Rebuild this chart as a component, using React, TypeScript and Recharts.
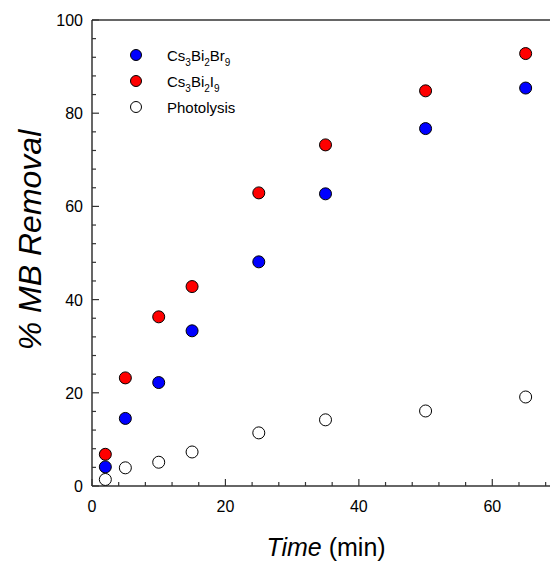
import { ScatterChart, Scatter, XAxis, YAxis, ReferenceLine } from 'recharts'

// time points (min)
const times = [2, 5, 10, 15, 25, 35, 50, 65]
// % MB removal per series
const brValues = [4.1, 14.5, 22.2, 33.3, 48.1, 62.7, 76.7, 85.4]
const iValues = [6.8, 23.2, 36.3, 42.8, 62.9, 73.2, 84.8, 92.8]
const photoValues = [1.4, 3.9, 5.1, 7.3, 11.4, 14.2, 16.1, 19.1]

const xTicks = [0, 4, 8, 12, 16, 20, 24, 28, 32, 36, 40, 44, 48, 52, 56, 60, 64, 68]
const xMajor = [0, 20, 40, 60]
const yTicks = [0, 4, 8, 12, 16, 20, 24, 28, 32, 36, 40, 44, 48, 52, 56, 60, 64, 68, 72, 76, 80, 84, 88, 92, 96, 100]
const yMajor = [0, 20, 40, 60, 80, 100]

const toPoints = (vals: number[]) => times.map((t, i) => ({ x: t, y: vals[i] }))
const brData = toPoints(brValues)
const iData = toPoints(iValues)
const photoData = toPoints(photoValues)

const FONT = '"Liberation Sans", Arial, sans-serif'

const dot = (fill: string) => (props: any) => (
  <circle cx={props.cx} cy={props.cy} r={6} fill={fill} stroke="#000" strokeWidth={1} />
)

const XTick = (props: any) => {
  const { x, y, payload } = props
  const major = xMajor.includes(payload.value)
  return (
    <g>
      <line x1={x} x2={x} y1={y} y2={y - (major ? 7 : 4)} stroke="#333" strokeWidth={1.2} />
      {major && (
        <text x={x} y={y + 26} textAnchor="middle" fontSize={16} fill="#000" fontFamily={FONT}>
          {payload.value}
        </text>
      )}
    </g>
  )
}

const YTick = (props: any) => {
  const { x, y, payload } = props
  const major = yMajor.includes(payload.value)
  return (
    <g>
      <line x1={x} x2={x + (major ? 7 : 4)} y1={y} y2={y} stroke="#333" strokeWidth={1.2} />
      {major && (
        <text x={x - 9} y={y + 6} textAnchor="end" fontSize={16} fill="#000" fontFamily={FONT}>
          {payload.value}
        </text>
      )}
    </g>
  )
}

const legendRows = [
  { fill: '#0000ff', label: ['Cs', '3', 'Bi', '2', 'Br', '9'] },
  { fill: '#ff0000', label: ['Cs', '3', 'Bi', '2', 'I', '9'] },
  { fill: '#ffffff', label: ['Photolysis'] },
]

export default function App() {
  return (
    <div style={{ position: 'absolute', left: 0, top: 0, width: 600, height: 564, fontFamily: FONT }}>
      <ScatterChart width={600} height={564} margin={{ top: 20, right: 41, bottom: 77, left: 91 }}>
        <XAxis
          type="number"
          dataKey="x"
          domain={[0, 70]}
          ticks={xTicks}
          interval={0}
          height={1}
          tickSize={0}
          tickMargin={0}
          tick={<XTick />}
          axisLine={{ stroke: '#333', strokeWidth: 1.6 }}
          tickLine={false}
        />
        <YAxis
          type="number"
          dataKey="y"
          domain={[0, 100]}
          ticks={yTicks}
          interval={0}
          width={1}
          tickSize={0}
          tickMargin={0}
          tick={<YTick />}
          axisLine={{ stroke: '#000', strokeWidth: 1.2 }}
          tickLine={false}
        />
        <ReferenceLine y={100} stroke="#666" strokeWidth={2} />
        <Scatter name="Photolysis" data={photoData} shape={dot('#ffffff')} isAnimationActive={false} />
        <Scatter name="Cs3Bi2Br9" data={brData} shape={dot('#0000ff')} isAnimationActive={false} />
        <Scatter name="Cs3Bi2I9" data={iData} shape={dot('#ff0000')} isAnimationActive={false} />
      </ScatterChart>

      {legendRows.map((row, i) => (
        <div key={i} style={{ position: 'absolute', left: 130, top: 45 + i * 26, height: 20, display: 'flex', alignItems: 'center' }}>
          <span style={{ width: 12, height: 12, borderRadius: '50%', background: row.fill, border: '1px solid #000', boxSizing: 'border-box', display: 'inline-block' }} />
          <span style={{ marginLeft: 25, fontSize: 15, color: '#000', whiteSpace: 'nowrap' }}>
            {row.label.map((part, j) =>
              j % 2 === 1 ? (
                <span key={j} style={{ fontSize: 10, position: 'relative', top: 5 }}>{part}</span>
              ) : (
                <span key={j}>{part}</span>
              )
            )}
          </span>
        </div>
      ))}

      <div
        style={{
          position: 'absolute',
          left: 30,
          top: 240,
          transform: 'translate(-50%, -50%) rotate(-90deg)',
          fontSize: 32,
          fontStyle: 'italic',
          whiteSpace: 'nowrap',
          color: '#000',
        }}
      >
        % MB Removal
      </div>
      <div
        style={{
          position: 'absolute',
          left: 326,
          top: 547,
          transform: 'translate(-50%, -50%)',
          fontSize: 25,
          whiteSpace: 'nowrap',
          color: '#000',
        }}
      >
        <i>Time</i> (min)
      </div>
    </div>
  )
}
